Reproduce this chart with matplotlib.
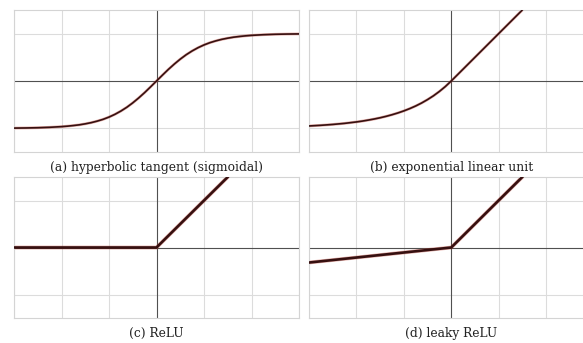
"""
Four activation functions drawn on a light grid, each with a caption below.
"""

import matplotlib.pyplot as plt

tanh_x = [-3.0, -2.75, -2.5, -2.25, -2.0, -1.875, -1.75, -1.625, -1.5, -1.375, -1.25, -1.125,
          -1.0, -0.875, -0.75, -0.625, -0.5, -0.375, -0.25, -0.125, 0.0,
          0.125, 0.25, 0.375, 0.5, 0.625, 0.75, 0.875, 1.0,
          1.125, 1.25, 1.375, 1.5, 1.625, 1.75, 1.875, 2.0, 2.25, 2.5, 2.75, 3.0]
tanh_y = [-0.995, -0.992, -0.987, -0.978, -0.964, -0.954, -0.941, -0.926, -0.905, -0.880, -0.848, -0.810,
          -0.762, -0.704, -0.635, -0.555, -0.462, -0.358, -0.245, -0.124, 0.0,
          0.124, 0.245, 0.358, 0.462, 0.555, 0.635, 0.704, 0.762,
          0.810, 0.848, 0.880, 0.905, 0.926, 0.941, 0.954, 0.964, 0.978, 0.987, 0.992, 0.995]

elu_x = [-3.0, -2.75, -2.5, -2.25, -2.0, -1.875, -1.75, -1.625, -1.5, -1.375, -1.25, -1.125,
         -1.0, -0.875, -0.75, -0.625, -0.5, -0.375, -0.25, -0.125, 0.0, 3.0]
elu_y = [-0.950, -0.936, -0.918, -0.895, -0.865, -0.847, -0.826, -0.803, -0.777, -0.747, -0.713, -0.675,
         -0.632, -0.583, -0.528, -0.465, -0.393, -0.313, -0.221, -0.118, 0.0, 3.0]

relu_x = [-3.0, 0.0, 3.0]
relu_y = [0.0, 0.0, 3.0]

leaky_x = [-3.0, 0.0, 3.0]
leaky_y = [-0.32, 0.0, 3.0]

captions = ["(a) hyperbolic tangent (sigmoidal)", "(b) exponential linear unit",
            "(c) ReLU", "(d) leaky ReLU"]

GRID = "#dcdcdc"
AXIS = "#505050"
HALO = "#c0392b"
CORE = "#361010"

W, H = 583, 343
fig = plt.figure(figsize=(W / 100, H / 100), dpi=100)

# panel boxes in pixels: left, top, right, bottom
boxes = [(14, 10, 299, 152), (309, 10, 583, 152), (14, 177, 299, 318), (309, 177, 583, 318)]
xmax = [3.0, 2.78, 3.0, 2.78]
series = [(tanh_x, tanh_y, 1.2), (elu_x, elu_y, 1.2), (relu_x, relu_y, 1.9), (leaky_x, leaky_y, 1.9)]

for i, ((l, t, r, b), (xs, ys, lw)) in enumerate(zip(boxes, series)):
    ax = fig.add_axes([l / W, 1 - b / H, (r - l) / W, (b - t) / H])
    ax.set_xlim(-3, xmax[i])
    ax.set_ylim(-1.5, 1.5)
    for gx in [-3, -2, -1, 1, 2, 3]:
        ax.axvline(gx, color=GRID, lw=0.8, zorder=0)
    for gy in [-1, 1]:
        ax.axhline(gy, color=GRID, lw=0.8, zorder=0)
    ax.axvline(0, color=AXIS, lw=0.8, zorder=1)
    ax.axhline(0, color=AXIS, lw=0.8, zorder=1)
    ax.plot(xs, ys, color=HALO, lw=lw + 0.8, alpha=0.4, solid_joinstyle="round", zorder=2)
    ax.plot(xs, ys, color=CORE, lw=lw, solid_joinstyle="round", zorder=3)
    ax.set_xticks([])
    ax.set_yticks([])
    for sp in ax.spines.values():
        sp.set_color("#d4d4d4")
        sp.set_linewidth(0.8)
    if xmax[i] < 3:
        ax.spines["right"].set_visible(False)
    ax.text(0, -1.5 - 15 / 47, captions[i], ha="center", va="center",
            family="DejaVu Serif", fontsize=8.8, color="#222222", clip_on=False)

fig.savefig("out.png", dpi=100)
